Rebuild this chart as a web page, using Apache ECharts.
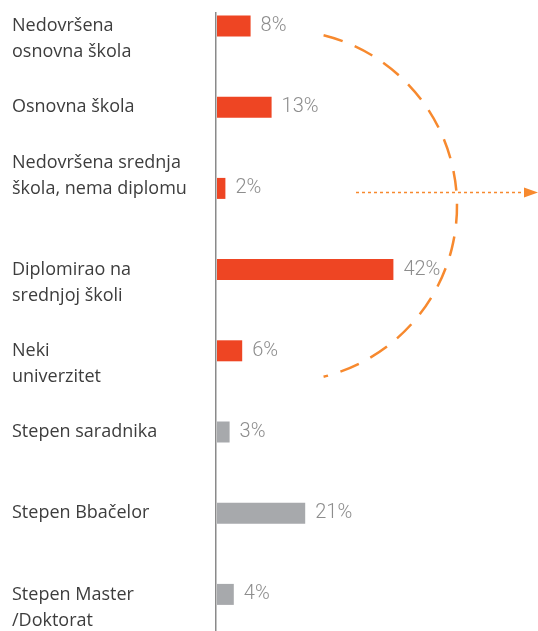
<!DOCTYPE html>
<html>
<head>
<meta charset="utf-8">
<script src="https://cdn.jsdelivr.net/npm/echarts@6/dist/echarts.min.js"></script>
<style>
html,body{margin:0;padding:0;background:#fff;}
#chart{width:538px;height:631px;}
</style>
</head>
<body>
<div id="chart"></div>
<script>
// ---- data ----
var categories = [
  'Nedovršena\nosnovna škola',
  'Osnovna škola',
  'Nedovršena srednja\nškola, nema diplomu',
  'Diplomirao na\nsrednjoj školi',
  'Neki\nuniverzitet',
  'Stepen saradnika',
  'Stepen Bbačelor',
  'Stepen Master\n/Doktorat'
];
var values = [8, 13, 2, 42, 6, 3, 21, 4];
var highlightedCount = 5; // first five categories drawn in red

// ---- styling ----
var RED = '#EE4523';
var GREY = '#A7A9AC';
var ORANGE = '#F7892E';
var LINE_H = 26;
var anchorOnLastLine = {2: true};

var chart = echarts.init(document.getElementById('chart'), null, {renderer: 'canvas'});
var deg = Math.PI / 180;
chart.setOption({
  backgroundColor: '#ffffff',
  animation: false,
  grid: {
    left: 217, right: 111, top: -14.6, bottom: -4,
    containLabel: false,
    outerBoundsMode: 'none'
  },
  xAxis: {
    type: 'value', min: 0, max: 50, show: false
  },
  yAxis: {
    type: 'category',
    inverse: true,
    data: categories,
    axisLine: { show: false },
    axisTick: { show: false },
    splitLine: { show: false },
    axisLabel: {
      align: 'left',
      verticalAlign: 'middle',
      margin: 205,
      fontFamily: 'Open Sans',
      fontSize: 18,
      lineHeight: LINE_H,
      color: '#3d3d3d',
      formatter: function (value, index) {
        // keep the bar aligned with the first line (or the last one for some labels)
        if (value.indexOf('\n') < 0) return value;
        return anchorOnLastLine[index] ? value + '\n ' : ' \n' + value;
      }
    }
  },
  series: [{
    type: 'bar',
    data: values,
    barWidth: 21,
    itemStyle: {
      color: function (p) { return p.dataIndex < highlightedCount ? RED : GREY; }
    },
    label: {
      show: true,
      position: 'right',
      distance: 10,
      formatter: '{c}%',
      fontFamily: 'Roboto',
      fontWeight: 300,
      fontSize: 20,
      color: '#8d8d8d'
    }
  }],
  graphic: [
    {
      type: 'line',
      shape: { x1: 215.75, y1: 12, x2: 215.75, y2: 631 },
      style: { stroke: '#8a8a8a', lineWidth: 1.5 },
      z: 10
    },
    {
      type: 'arc',
      shape: { cx: 281, cy: 206, r: 176, startAngle: -76 * deg, endAngle: 76 * deg, clockwise: true },
      style: { stroke: ORANGE, lineWidth: 2.5, lineDash: [20, 13], fill: null },
      z: 5
    },
    {
      type: 'line',
      shape: { x1: 356, y1: 192.5, x2: 524, y2: 192.5 },
      style: { stroke: ORANGE, lineWidth: 1.5, lineDash: [3, 3] },
      z: 5
    },
    {
      type: 'polygon',
      shape: { points: [[524, 187.5], [538, 192.5], [524, 197.5]] },
      style: { fill: ORANGE },
      z: 5
    }
  ]
});
</script>
</body>
</html>
